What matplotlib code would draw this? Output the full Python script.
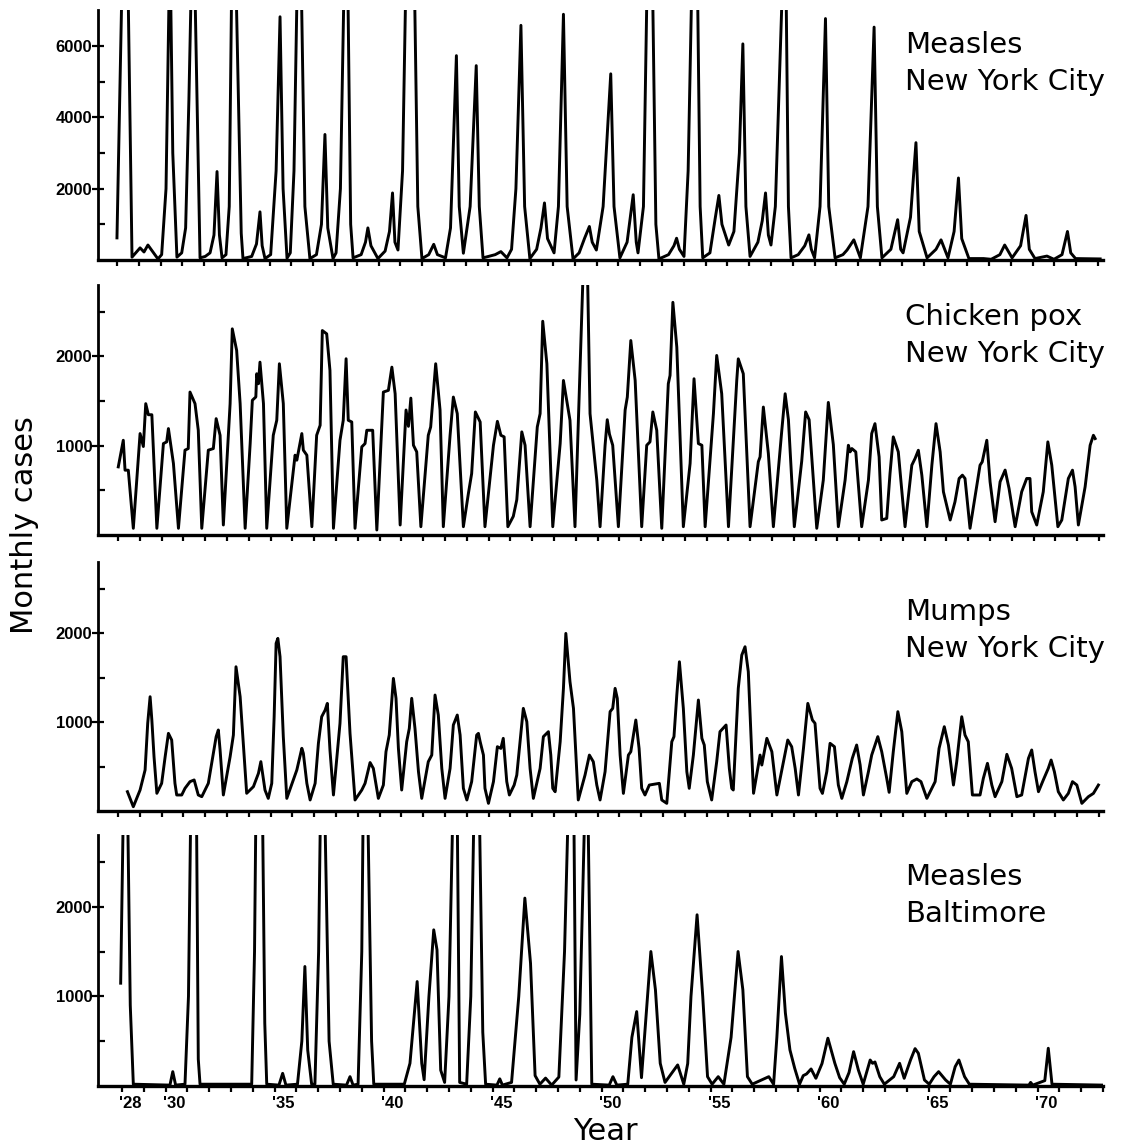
import numpy as np
import matplotlib
matplotlib.use("Agg")
import matplotlib.pyplot as plt

# (year, monthly cases) vertices
measles_nyc = [
    (1928.00, 620), (1928.21, 7200), (1928.36, 10000), (1928.52, 7200), (1928.69, 80),
    (1929.06, 340), (1929.24, 225), (1929.42, 420), (1929.88, 30),
    (1930.05, 150), (1930.25, 2000), (1930.43, 9000), (1930.56, 3000), (1930.75, 80), (1930.97, 200),
    (1931.15, 900), (1931.30, 4500), (1931.45, 9000), (1931.58, 7500), (1931.81, 60),
    (1932.05, 100), (1932.27, 200), (1932.45, 700), (1932.59, 2480), (1932.70, 700), (1932.82, 60),
    (1933.00, 150), (1933.15, 1500), (1933.25, 7200), (1933.35, 10000), (1933.48, 7200), (1933.70, 750), (1933.78, 40),
    (1934.18, 100), (1934.40, 450), (1934.56, 1350), (1934.66, 400), (1934.79, 40),
    (1935.05, 150), (1935.30, 2500), (1935.48, 6820), (1935.62, 2000), (1935.80, 50),
    (1935.95, 200), (1936.12, 2500), (1936.25, 7200), (1936.35, 10000), (1936.47, 7200), (1936.62, 1500), (1936.85, 40),
    (1937.15, 150), (1937.38, 1000), (1937.54, 3520), (1937.67, 900), (1937.91, 40),
    (1938.05, 200), (1938.25, 2000), (1938.40, 7200), (1938.50, 10000), (1938.60, 7200), (1938.72, 1000), (1938.83, 60),
    (1939.20, 150), (1939.40, 500), (1939.51, 900), (1939.65, 400), (1939.97, 40),
    (1940.30, 250), (1940.50, 800), (1940.64, 1880), (1940.75, 500), (1940.89, 280),
    (1941.10, 2500), (1941.23, 7200), (1941.45, 11000), (1941.66, 7200), (1941.80, 1500), (1941.99, 40),
    (1942.30, 150), (1942.53, 440), (1942.70, 150), (1943.07, 60),
    (1943.30, 900), (1943.57, 5730), (1943.70, 1500), (1943.89, 190),
    (1944.20, 1500), (1944.48, 5450), (1944.62, 1500), (1944.79, 60),
    (1945.35, 150), (1945.61, 235), (1945.89, 60),
    (1946.10, 300), (1946.30, 2000), (1946.53, 6580), (1946.70, 1500), (1946.94, 40),
    (1947.25, 300), (1947.45, 900), (1947.61, 1600), (1947.75, 600), (1948.05, 200),
    (1948.25, 1500), (1948.48, 6890), (1948.65, 1500), (1948.92, 30),
    (1949.20, 200), (1949.45, 610), (1949.67, 940), (1949.80, 500), (1949.99, 280),
    (1950.30, 1500), (1950.65, 5220), (1950.80, 1500), (1951.07, 60),
    (1951.40, 500), (1951.68, 1830), (1951.82, 500), (1951.90, 200),
    (1952.15, 1500), (1952.30, 7200), (1952.45, 11000), (1952.58, 7200), (1952.72, 1000), (1952.86, 30),
    (1953.30, 150), (1953.55, 400), (1953.67, 610), (1953.80, 300), (1954.01, 100),
    (1954.20, 2500), (1954.35, 7200), (1954.50, 11000), (1954.64, 7200), (1954.75, 1500), (1954.87, 60),
    (1955.20, 200), (1955.45, 1200), (1955.61, 1810), (1955.75, 1000), (1956.06, 420),
    (1956.30, 800), (1956.55, 3000), (1956.71, 6060), (1956.85, 1500), (1957.04, 100),
    (1957.40, 500), (1957.60, 1100), (1957.75, 1880), (1957.88, 700), (1958.00, 420),
    (1958.20, 1500), (1958.50, 7200), (1958.60, 10000), (1958.70, 7200), (1958.80, 1500), (1958.92, 60),
    (1959.25, 150), (1959.55, 400), (1959.74, 705), (1959.85, 300), (1960.00, 60),
    (1960.25, 1500), (1960.50, 6770), (1960.65, 1500), (1960.94, 60),
    (1961.30, 150), (1961.49, 280), (1961.80, 565), (1962.10, 60),
    (1962.45, 1500), (1962.73, 6530), (1962.88, 1500), (1963.09, 60),
    (1963.50, 300), (1963.81, 1130), (1963.95, 300), (1964.06, 200),
    (1964.40, 1200), (1964.65, 3290), (1964.80, 800), (1965.16, 60),
    (1965.57, 300), (1965.80, 565), (1966.12, 60),
    (1966.40, 800), (1966.60, 2300), (1966.75, 600), (1967.08, 40),
    (1967.75, 40), (1968.10, 20), (1968.50, 150), (1968.72, 420), (1969.06, 60),
    (1969.45, 400), (1969.70, 1250), (1969.85, 300), (1970.11, 40),
    (1970.66, 110), (1970.98, 20), (1971.35, 150), (1971.60, 800), (1971.75, 200), (1971.97, 40),
    (1973.10, 30),
]

chickenpox_nyc = [
    (1928.01, 763), (1928.24, 1061), (1928.32, 726), (1928.47, 726), (1928.70, 75),
    (1929.01, 1136), (1929.16, 991), (1929.27, 1471), (1929.39, 1347), (1929.55, 1347), (1929.78, 75),
    (1930.08, 1024), (1930.23, 1043), (1930.31, 1192), (1930.54, 801), (1930.77, 75),
    (1931.07, 950), (1931.22, 968), (1931.30, 1601), (1931.53, 1471), (1931.68, 1173), (1931.84, 75),
    (1932.14, 950), (1932.37, 968), (1932.50, 1303), (1932.68, 1117), (1932.83, 112),
    (1933.14, 1471), (1933.24, 2309), (1933.44, 2067), (1933.60, 1471), (1933.83, 75),
    (1934.06, 1024), (1934.16, 1509), (1934.32, 1546), (1934.36, 1806), (1934.44, 1694), (1934.51, 1936), (1934.67, 1471), (1934.82, 75),
    (1935.12, 1117), (1935.28, 1285), (1935.40, 1918), (1935.58, 1471), (1935.74, 75),
    (1936.12, 894), (1936.20, 838), (1936.43, 1136), (1936.50, 950), (1936.66, 894), (1936.89, 93),
    (1937.11, 1117), (1937.27, 1229), (1937.37, 2290), (1937.57, 2253), (1937.72, 1843), (1937.88, 75),
    (1938.18, 1061), (1938.33, 1285), (1938.46, 1974), (1938.56, 1285), (1938.72, 1266), (1938.87, 75),
    (1939.18, 987), (1939.33, 1024), (1939.41, 1173), (1939.68, 1173), (1939.87, 56),
    (1940.17, 1601), (1940.40, 1620), (1940.56, 1880), (1940.71, 1582), (1940.94, 112),
    (1941.21, 1400), (1941.32, 1217), (1941.43, 1533), (1941.55, 1005), (1941.70, 931), (1941.89, 93),
    (1942.23, 1117), (1942.34, 1210), (1942.57, 1918), (1942.77, 1400), (1942.92, 93),
    (1943.23, 1117), (1943.38, 1545), (1943.56, 1359), (1943.84, 93),
    (1944.07, 465), (1944.22, 688), (1944.39, 1378), (1944.61, 1266), (1944.83, 93),
    (1945.22, 1005), (1945.40, 1273), (1945.56, 1117), (1945.71, 1099), (1945.88, 93),
    (1946.13, 209), (1946.29, 395), (1946.52, 1155), (1946.67, 1005), (1946.90, 93),
    (1947.23, 1210), (1947.36, 1359), (1947.48, 2394), (1947.67, 1918), (1947.94, 93),
    (1948.28, 1024), (1948.43, 1731), (1948.73, 1285), (1948.96, 93),
    (1949.19, 1843), (1949.34, 3000), (1949.53, 3000), (1949.65, 1359), (1949.96, 614), (1950.11, 93),
    (1950.34, 1005), (1950.44, 1291), (1950.54, 1130), (1950.69, 1005), (1950.95, 93),
    (1951.26, 1400), (1951.36, 1545), (1951.52, 2178), (1951.72, 1731), (1952.02, 93),
    (1952.25, 1005), (1952.40, 1043), (1952.53, 1378), (1952.71, 1173), (1952.94, 75),
    (1953.24, 1694), (1953.32, 1787), (1953.45, 2606), (1953.63, 2104), (1953.93, 93),
    (1954.24, 801), (1954.42, 1750), (1954.62, 1024), (1954.78, 1005), (1954.93, 93),
    (1955.31, 1359), (1955.46, 2011), (1955.69, 1582), (1956.00, 93),
    (1956.38, 1731), (1956.45, 1973), (1956.68, 1806), (1956.99, 93),
    (1957.37, 821), (1957.45, 875), (1957.60, 1433), (1957.83, 912), (1958.06, 93),
    (1958.44, 1155), (1958.60, 1582), (1958.75, 1291), (1959.02, 93),
    (1959.36, 827), (1959.54, 1378), (1959.70, 1291), (1960.05, 75),
    (1960.35, 615), (1960.58, 1485), (1960.81, 1012), (1961.04, 93),
    (1961.35, 615), (1961.50, 1005), (1961.58, 931), (1961.66, 968), (1961.84, 931), (1962.11, 93),
    (1962.42, 615), (1962.57, 1136), (1962.72, 1247), (1962.91, 875), (1963.03, 168), (1963.26, 186),
    (1963.41, 688), (1963.56, 1099), (1963.79, 931), (1964.10, 93),
    (1964.41, 782), (1964.56, 857), (1964.71, 949), (1964.87, 670), (1965.10, 93),
    (1965.33, 782), (1965.52, 1247), (1965.71, 931), (1965.86, 484), (1966.17, 168),
    (1966.39, 372), (1966.58, 633), (1966.73, 670), (1966.85, 633), (1967.08, 75),
    (1967.54, 782), (1967.64, 819), (1967.85, 1061), (1968.00, 596), (1968.23, 149),
    (1968.46, 596), (1968.69, 727), (1968.87, 522), (1969.15, 93),
    (1969.45, 484), (1969.68, 633), (1969.83, 633), (1969.91, 260), (1970.14, 112),
    (1970.44, 484), (1970.65, 1043), (1970.83, 782), (1971.11, 93),
    (1971.29, 168), (1971.59, 633), (1971.78, 726), (1971.90, 540), (1972.05, 112),
    (1972.36, 540), (1972.59, 1005), (1972.74, 1117), (1972.82, 1080),
]

mumps_nyc = [
    (1928.43, 217), (1928.70, 48), (1929.01, 236), (1929.24, 461), (1929.36, 986), (1929.47, 1285),
    (1929.55, 1023), (1929.65, 610), (1929.78, 199),
    (1930.00, 311), (1930.16, 610), (1930.31, 873), (1930.46, 798), (1930.61, 311), (1930.69, 180),
    (1930.92, 180), (1931.07, 255), (1931.30, 330), (1931.49, 349), (1931.68, 180), (1931.84, 161),
    (1932.14, 311), (1932.37, 648), (1932.50, 836), (1932.60, 911), (1932.68, 686), (1932.83, 180),
    (1933.14, 610), (1933.29, 854), (1933.41, 1622), (1933.60, 1285), (1933.90, 199),
    (1934.21, 274), (1934.44, 424), (1934.55, 555), (1934.74, 236), (1934.89, 142),
    (1935.05, 311), (1935.16, 1060), (1935.25, 1885), (1935.33, 1941), (1935.43, 1735), (1935.58, 836), (1935.74, 142),
    (1936.04, 349), (1936.20, 461), (1936.43, 705), (1936.50, 648), (1936.66, 311), (1936.81, 124),
    (1937.04, 311), (1937.19, 761), (1937.34, 1060), (1937.50, 1135), (1937.60, 1210), (1937.72, 686), (1937.88, 180),
    (1938.18, 986), (1938.33, 1735), (1938.46, 1735), (1938.64, 873), (1938.87, 124),
    (1939.18, 236), (1939.33, 311), (1939.56, 545), (1939.71, 479), (1939.94, 142),
    (1940.17, 292), (1940.29, 667), (1940.44, 854), (1940.63, 1491), (1940.75, 1267), (1940.86, 704), (1941.01, 236),
    (1941.24, 779), (1941.36, 929), (1941.47, 1267), (1941.62, 929), (1941.78, 442), (1941.93, 142),
    (1942.23, 554), (1942.39, 629), (1942.54, 1304), (1942.69, 1079), (1942.85, 479), (1943.00, 142),
    (1943.23, 479), (1943.38, 967), (1943.56, 1079), (1943.69, 854), (1943.84, 255), (1944.00, 124),
    (1944.22, 330), (1944.45, 854), (1944.53, 873), (1944.61, 779), (1944.76, 629), (1944.83, 255), (1944.99, 86),
    (1945.22, 330), (1945.40, 723), (1945.56, 704), (1945.67, 817), (1945.83, 330), (1945.95, 180),
    (1946.17, 292), (1946.29, 404), (1946.44, 779), (1946.59, 1154), (1946.75, 1004), (1946.90, 479), (1947.05, 142),
    (1947.36, 479), (1947.51, 836), (1947.74, 892), (1947.85, 629), (1947.94, 255), (1948.05, 217),
    (1948.28, 779), (1948.43, 1379), (1948.54, 1997), (1948.73, 1454), (1948.89, 1154), (1949.11, 124),
    (1949.42, 404), (1949.62, 629), (1949.80, 554), (1949.96, 292), (1950.11, 124),
    (1950.34, 442), (1950.57, 1117), (1950.69, 1154), (1950.80, 1379), (1950.90, 1267), (1951.03, 629), (1951.18, 198),
    (1951.41, 629), (1951.52, 667), (1951.75, 1023), (1951.90, 704), (1952.02, 255), (1952.17, 180),
    (1952.37, 292), (1952.56, 300), (1952.83, 311), (1952.94, 124), (1953.17, 86),
    (1953.40, 779), (1953.50, 836), (1953.63, 1304), (1953.75, 1678), (1953.93, 1154), (1954.09, 442), (1954.20, 255),
    (1954.39, 629), (1954.62, 1248), (1954.78, 817), (1954.89, 742), (1955.03, 330), (1955.23, 124),
    (1955.46, 554), (1955.61, 892), (1955.89, 967), (1956.04, 479), (1956.15, 255), (1956.22, 236),
    (1956.45, 1379), (1956.61, 1753), (1956.76, 1847), (1956.91, 1566), (1957.07, 629), (1957.15, 199),
    (1957.45, 629), (1957.53, 517), (1957.76, 817), (1957.99, 667), (1958.22, 180),
    (1958.72, 798), (1958.90, 723), (1959.06, 479), (1959.21, 180),
    (1959.44, 704), (1959.64, 1210), (1959.85, 1023), (1959.97, 986), (1960.20, 255), (1960.31, 198),
    (1960.51, 442), (1960.66, 761), (1960.86, 723), (1961.04, 292), (1961.20, 142),
    (1961.43, 330), (1961.68, 592), (1961.88, 742), (1962.04, 517), (1962.19, 180),
    (1962.42, 442), (1962.57, 629), (1962.85, 836), (1963.03, 667), (1963.26, 366), (1963.37, 210),
    (1963.56, 667), (1963.77, 1117), (1963.95, 892), (1964.18, 198),
    (1964.41, 330), (1964.64, 360), (1964.83, 330), (1965.10, 142),
    (1965.48, 330), (1965.66, 704), (1965.90, 948), (1966.09, 742), (1966.32, 292),
    (1966.47, 554), (1966.70, 1060), (1966.85, 854), (1967.00, 779), (1967.19, 180),
    (1967.54, 180), (1967.69, 366), (1967.88, 536), (1968.08, 292), (1968.23, 161),
    (1968.54, 330), (1968.77, 637), (1968.99, 479), (1969.23, 161),
    (1969.45, 180), (1969.76, 592), (1969.91, 686), (1970.06, 442), (1970.22, 217),
    (1970.44, 348), (1970.67, 479), (1970.80, 573), (1970.95, 442), (1971.13, 217), (1971.36, 124),
    (1971.59, 198), (1971.78, 330), (1971.98, 292), (1972.21, 86),
    (1972.51, 161), (1972.74, 198), (1972.97, 292),
]

measles_bal = [
    (1927.94, 1147), (1928.05, 2900), (1928.15, 3600), (1928.27, 2900), (1928.38, 900), (1928.52, 20),
    (1930.20, 10), (1930.33, 160), (1930.46, 10),
    (1930.89, 20), (1931.05, 1000), (1931.15, 3000), (1931.28, 4500), (1931.42, 3000), (1931.50, 300), (1931.58, 20),
    (1933.95, 20), (1934.08, 1500), (1934.14, 3000), (1934.28, 4500), (1934.45, 3000), (1934.55, 700), (1934.64, 20),
    (1935.20, 10), (1935.37, 141), (1935.52, 10),
    (1936.05, 20), (1936.25, 500), (1936.39, 1333), (1936.52, 400), (1936.70, 20),
    (1936.85, 20), (1937.02, 1500), (1937.10, 3000), (1937.20, 4000), (1937.31, 3000), (1937.50, 500), (1937.69, 20),
    (1938.30, 10), (1938.46, 104), (1938.60, 10),
    (1938.83, 20), (1939.00, 1500), (1939.06, 3000), (1939.17, 4500), (1939.28, 3000), (1939.45, 500), (1939.55, 20),
    (1940.95, 20), (1941.21, 253), (1941.54, 1165), (1941.75, 253), (1941.86, 70),
    (1942.08, 998), (1942.30, 1742), (1942.45, 1519), (1942.62, 177), (1942.80, 40),
    (1943.00, 998), (1943.17, 3000), (1943.27, 4500), (1943.38, 3000), (1943.49, 40),
    (1943.81, 20), (1944.00, 1000), (1944.14, 3000), (1944.27, 4500), (1944.40, 3000), (1944.55, 600), (1944.68, 20),
    (1945.20, 10), (1945.33, 80), (1945.45, 10),
    (1945.87, 40), (1946.20, 998), (1946.48, 2096), (1946.74, 1370), (1946.95, 116), (1947.17, 20),
    (1947.43, 88), (1947.71, 10),
    (1948.04, 100), (1948.30, 1500), (1948.46, 3000), (1948.60, 4500), (1948.73, 3000), (1948.83, 67),
    (1949.00, 800), (1949.22, 3000), (1949.30, 4000), (1949.38, 3000), (1949.55, 20),
    (1950.35, 10), (1950.52, 104), (1950.70, 10),
    (1951.20, 20), (1951.39, 543), (1951.61, 830), (1951.83, 93),
    (1952.26, 1500), (1952.47, 1073), (1952.69, 253), (1952.91, 40),
    (1953.49, 235), (1953.77, 20), (1953.95, 250),
    (1954.10, 998), (1954.38, 1910), (1954.64, 998), (1954.86, 104), (1955.07, 20),
    (1955.35, 104), (1955.61, 20),
    (1955.94, 543), (1956.26, 1500), (1956.48, 1073), (1956.69, 104), (1956.91, 20),
    (1957.67, 104), (1957.89, 20),
    (1958.04, 543), (1958.25, 1444), (1958.43, 815), (1958.64, 402), (1958.86, 196), (1959.08, 20),
    (1959.25, 116), (1959.40, 134), (1959.61, 190), (1959.83, 86),
    (1960.11, 250), (1960.38, 533), (1960.70, 253), (1960.92, 93), (1961.13, 20),
    (1961.35, 150), (1961.56, 383), (1961.78, 177), (1962.00, 20),
    (1962.32, 290), (1962.43, 253), (1962.54, 268), (1962.76, 104), (1962.97, 20),
    (1963.40, 104), (1963.67, 253), (1963.88, 86),
    (1964.17, 290), (1964.38, 417), (1964.53, 365), (1964.81, 67), (1965.03, 20),
    (1965.25, 104), (1965.46, 160), (1965.78, 67), (1966.00, 20),
    (1966.22, 216), (1966.39, 290), (1966.65, 104), (1966.87, 20),
    (1969.60, 10), (1969.68, 40), (1969.78, 10),
    (1970.33, 60), (1970.49, 421), (1970.66, 20),
    (1973.00, 10),
]

series = [measles_nyc, chickenpox_nyc, mumps_nyc, measles_bal]
titles = ["Measles\nNew York City", "Chicken pox\nNew York City",
          "Mumps\nNew York City", "Measles\nBaltimore"]
ymax = [7010, 2800, 2800, 2800]
major_y = [[2000, 4000, 6000], [1000, 2000], [1000, 2000], [1000, 2000]]
minor_y = [[1000, 3000, 5000], [500, 1500, 2500], [500, 1500, 2500], [500, 1500, 2500]]
label_years = [1928, 1930, 1935, 1940, 1945, 1950, 1955, 1960, 1965, 1970]
tick_years = list(range(1928, 1974))

W, H = 1131, 1148
fig = plt.figure(figsize=(W / 100, H / 100), dpi=100)

# panel boxes in pixels: (bottom, top); the scanned panels are slightly offset sideways
boxes = [(260, 10), (535, 285), (811, 562), (1086, 835)]
x_offset = [0.23, 0.18, 0.18, 0.0]
title_top = [31, 303, 598, 863]
left_px, right_px = 98, 1103

axes = []
for i, (bot, top) in enumerate(boxes):
    ax = fig.add_axes([left_px / W, 1 - bot / H, (right_px - left_px) / W, (bot - top) / H])
    t, v = np.array(series[i]).T
    ax.plot(t, v, color="black", lw=2.1, solid_joinstyle="round")
    ax.set_xlim(1926.9 + x_offset[i], 1973.0 + x_offset[i])
    ax.set_ylim(0, ymax[i])
    for s in ["top", "right"]:
        ax.spines[s].set_visible(False)
    ax.spines["left"].set_linewidth(2.0)
    ax.spines["bottom"].set_linewidth(2.4)
    ax.set_xticks([y for y in tick_years if y <= 1973.0 + x_offset[i]])
    ax.tick_params(axis="x", direction="out", length=4, width=1.6, labelbottom=False)
    ax.set_yticks(major_y[i])
    ax.set_yticklabels([str(y) for y in major_y[i]], fontfamily="Liberation Sans",
                       fontweight="bold", fontsize=12)
    ax.set_yticks(minor_y[i], minor=True)
    ax.tick_params(axis="y", which="major", direction="inout", length=8, width=1.6, pad=0)
    ax.tick_params(axis="y", which="minor", direction="in", length=5, width=1.6)
    ax.patch.set_alpha(0)
    fig.text(905 / W, 1 - title_top[i] / H, titles[i], fontsize=21, va="top", ha="left",
             linespacing=1.4)
    axes.append(ax)

ax4 = axes[-1]
for y in label_years:
    ax4.annotate("'%02d" % (y % 100), xy=(y, 0), xycoords="data", xytext=(-2, -7),
                 textcoords="offset points", ha="left", va="top",
                 fontfamily="Liberation Sans", fontweight="bold", fontsize=12)

fig.text(25 / W, 1 - 525 / H, "Monthly cases", rotation=90, fontsize=22,
         ha="center", va="center")
fig.text(605 / W, 1 - 1131 / H, "Year", fontsize=22, ha="center", va="center")

fig.savefig("out.png", dpi=100)
